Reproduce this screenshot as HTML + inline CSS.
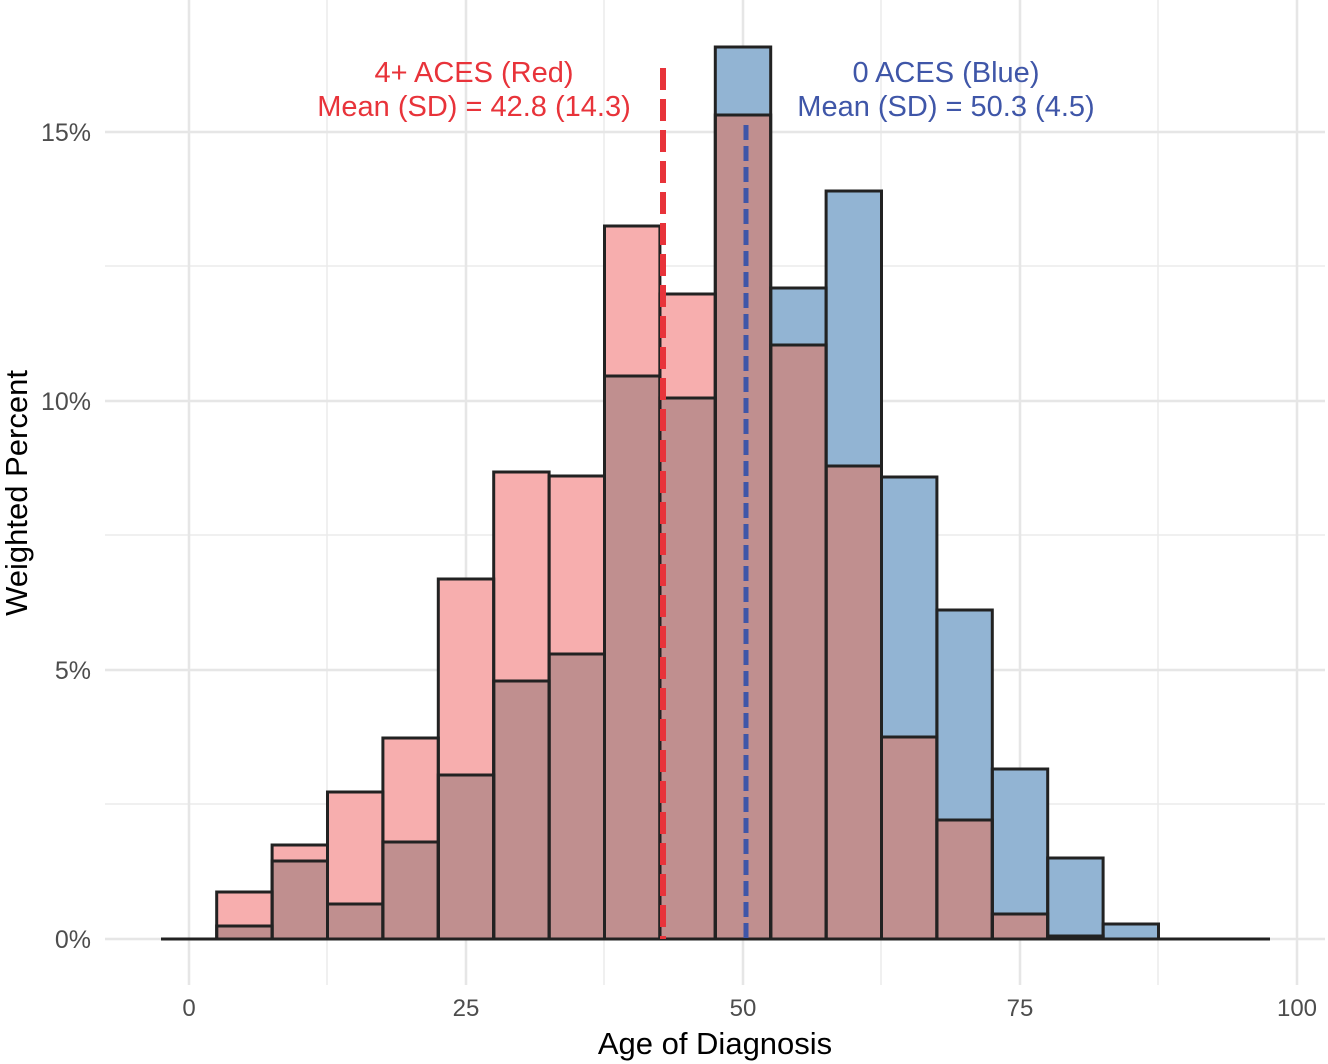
<!DOCTYPE html>
<html><head><meta charset="utf-8"><style>body{margin:0;background:#fff}svg{display:block;font-family:"Liberation Sans",Arial,sans-serif}</style></head><body>
<svg width="1328" height="1064" viewBox="0 0 1328 1064" xmlns="http://www.w3.org/2000/svg">
<rect width="1328" height="1064" fill="#fff"/>
<g stroke="#ebebeb" stroke-width="1.5">
<line x1="105" x2="1325" y1="804" y2="804"/><line x1="105" x2="1325" y1="535" y2="535"/><line x1="105" x2="1325" y1="266" y2="266"/>
<line x1="327" x2="327" y1="0" y2="985"/><line x1="604" x2="604" y1="0" y2="985"/><line x1="881" x2="881" y1="0" y2="985"/><line x1="1158" x2="1158" y1="0" y2="985"/>
</g>
<g stroke="#e6e6e6" stroke-width="2.5">
<line x1="105" x2="1325" y1="939" y2="939"/><line x1="105" x2="1325" y1="670" y2="670"/><line x1="105" x2="1325" y1="401" y2="401"/><line x1="105" x2="1325" y1="132" y2="132"/>
<line x1="189" x2="189" y1="0" y2="985"/><line x1="466" x2="466" y1="0" y2="985"/><line x1="743" x2="743" y1="0" y2="985"/><line x1="1020" x2="1020" y1="0" y2="985"/><line x1="1297" x2="1297" y1="0" y2="985"/>
</g>
<g fill="#f7aeae">
<rect x="216.7" y="892" width="55.4" height="34"/>
<rect x="272.1" y="845" width="55.4" height="16"/>
<rect x="327.5" y="792" width="55.4" height="112"/>
<rect x="382.9" y="738" width="55.4" height="104"/>
<rect x="438.3" y="579" width="55.4" height="196"/>
<rect x="493.7" y="472" width="55.4" height="209"/>
<rect x="549.1" y="476" width="55.4" height="178"/>
<rect x="604.5" y="226" width="55.4" height="150"/>
<rect x="659.9" y="294" width="55.4" height="104"/>
</g>
<g fill="#92b4d3">
<rect x="715.3" y="47" width="55.4" height="68"/>
<rect x="770.7" y="288" width="55.4" height="57"/>
<rect x="826.1" y="191" width="55.4" height="275"/>
<rect x="881.5" y="477" width="55.4" height="260"/>
<rect x="936.9" y="610" width="55.4" height="210"/>
<rect x="992.3" y="769" width="55.4" height="145"/>
<rect x="1047.7" y="858" width="55.4" height="78"/>
<rect x="1103.1" y="924" width="55.4" height="15"/>
</g>
<g fill="#c08f8f">
<rect x="216.7" y="926" width="55.4" height="13"/>
<rect x="272.1" y="861" width="55.4" height="78"/>
<rect x="327.5" y="904" width="55.4" height="35"/>
<rect x="382.9" y="842" width="55.4" height="97"/>
<rect x="438.3" y="775" width="55.4" height="164"/>
<rect x="493.7" y="681" width="55.4" height="258"/>
<rect x="549.1" y="654" width="55.4" height="285"/>
<rect x="604.5" y="376" width="55.4" height="563"/>
<rect x="659.9" y="398" width="55.4" height="541"/>
<rect x="715.3" y="115" width="55.4" height="824"/>
<rect x="770.7" y="345" width="55.4" height="594"/>
<rect x="826.1" y="466" width="55.4" height="473"/>
<rect x="881.5" y="737" width="55.4" height="202"/>
<rect x="936.9" y="820" width="55.4" height="119"/>
<rect x="992.3" y="914" width="55.4" height="25"/>
<rect x="1047.7" y="936" width="55.4" height="3"/>
</g>
<g fill="none" stroke="#222" stroke-width="3">
<rect x="216.7" y="892" width="55.4" height="47"/><rect x="216.7" y="926" width="55.4" height="13"/>
<rect x="272.1" y="845" width="55.4" height="94"/><rect x="272.1" y="861" width="55.4" height="78"/>
<rect x="327.5" y="792" width="55.4" height="147"/><rect x="327.5" y="904" width="55.4" height="35"/>
<rect x="382.9" y="738" width="55.4" height="201"/><rect x="382.9" y="842" width="55.4" height="97"/>
<rect x="438.3" y="579" width="55.4" height="360"/><rect x="438.3" y="775" width="55.4" height="164"/>
<rect x="493.7" y="472" width="55.4" height="467"/><rect x="493.7" y="681" width="55.4" height="258"/>
<rect x="549.1" y="476" width="55.4" height="463"/><rect x="549.1" y="654" width="55.4" height="285"/>
<rect x="604.5" y="226" width="55.4" height="713"/><rect x="604.5" y="376" width="55.4" height="563"/>
<rect x="659.9" y="294" width="55.4" height="645"/><rect x="659.9" y="398" width="55.4" height="541"/>
<rect x="715.3" y="47" width="55.4" height="892"/><rect x="715.3" y="115" width="55.4" height="824"/>
<rect x="770.7" y="288" width="55.4" height="651"/><rect x="770.7" y="345" width="55.4" height="594"/>
<rect x="826.1" y="191" width="55.4" height="748"/><rect x="826.1" y="466" width="55.4" height="473"/>
<rect x="881.5" y="477" width="55.4" height="462"/><rect x="881.5" y="737" width="55.4" height="202"/>
<rect x="936.9" y="610" width="55.4" height="329"/><rect x="936.9" y="820" width="55.4" height="119"/>
<rect x="992.3" y="769" width="55.4" height="170"/><rect x="992.3" y="914" width="55.4" height="25"/>
<rect x="1047.7" y="858" width="55.4" height="81"/><rect x="1047.7" y="936" width="55.4" height="3"/>
<rect x="1103.1" y="924" width="55.4" height="15"/>
<line x1="161" x2="1270" y1="939" y2="939"/>
</g>
<line x1="663" x2="663" y1="68" y2="939" stroke="#e8333a" stroke-width="6" stroke-dasharray="22 9"/>
<line x1="746" x2="746" y1="125" y2="939" stroke="#3f56a8" stroke-width="5" stroke-dasharray="15 6"/>
<g font-size="29" text-anchor="middle">
<text x="474" y="82" fill="#e8333a">4+ ACES (Red)</text>
<text x="474" y="116" fill="#e8333a">Mean (SD) = 42.8 (14.3)</text>
<text x="946" y="82" fill="#3f56a8">0 ACES (Blue)</text>
<text x="946" y="116" fill="#3f56a8">Mean (SD) = 50.3 (4.5)</text>
</g>
<g font-size="25" fill="#4d4d4d" text-anchor="end">
<text x="91" y="948">0%</text><text x="91" y="679">5%</text><text x="91" y="410">10%</text><text x="91" y="141">15%</text>
</g>
<g font-size="24" fill="#4d4d4d" text-anchor="middle">
<text x="189" y="1016">0</text><text x="466" y="1016">25</text><text x="743" y="1016">50</text><text x="1020" y="1016">75</text><text x="1297" y="1016">100</text>
</g>
<text x="715" y="1054" font-size="31" text-anchor="middle" fill="#000">Age of Diagnosis</text>
<text transform="translate(27,493) rotate(-90)" font-size="31" text-anchor="middle" fill="#000">Weighted Percent</text>
</svg>
</body></html>
